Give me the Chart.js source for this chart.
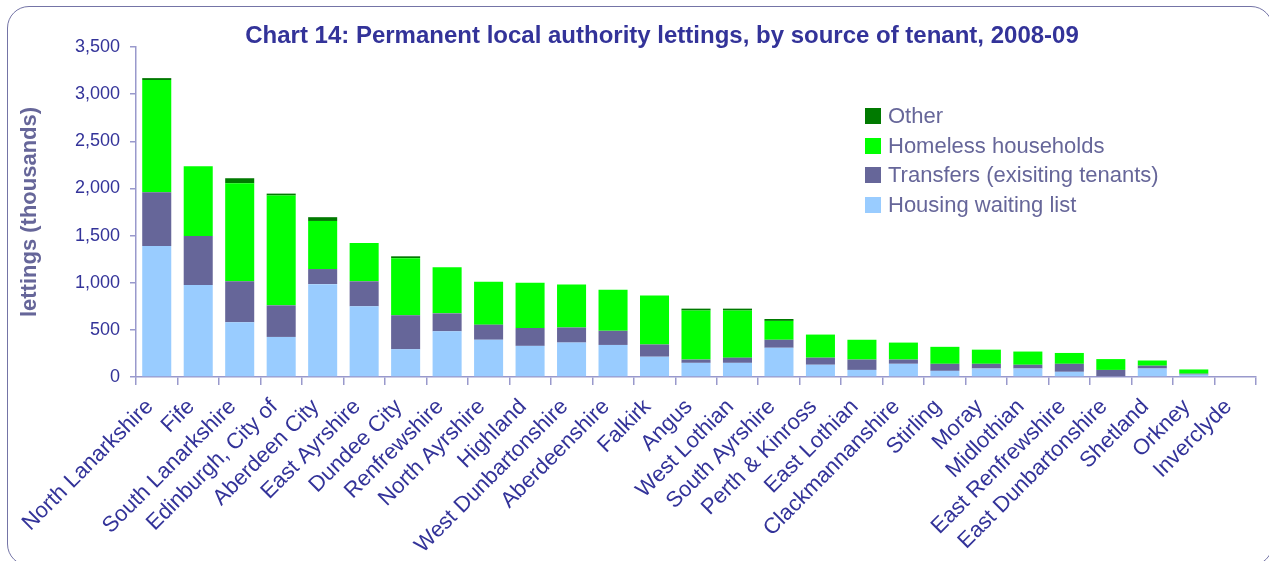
<!DOCTYPE html>
<html>
<head>
<meta charset="utf-8">
<script src="https://cdn.jsdelivr.net/npm/chart.js@4.4.1/dist/chart.umd.min.js"></script>
<style>
  html, body { margin: 0; padding: 0; background: #fff; }
  #wrap { position: relative; width: 1269px; height: 561px; overflow: hidden; font-family: "Liberation Sans", Arial, sans-serif; }
  #frame { position: absolute; left: 7px; top: 6px; width: 1266px; height: 560px; border: 1.5px solid #7474a6; border-radius: 22px; box-sizing: border-box; }
  #title { position: absolute; left: 662px; top: 21px; transform: translateX(-50%); white-space: nowrap; font-weight: bold; font-size: 24px; line-height: 28px; color: #333399; }
  #legend { position: absolute; left: 865px; top: 101px; }
  .item { display: flex; align-items: center; height: 29.7px; font-size: 22px; color: #666699; }
  .box { width: 16px; height: 16px; margin-right: 7px; }
  canvas { position: absolute; left: 0; top: 0; }
</style>
</head>
<body>
<div id="wrap">
  <canvas id="grafico" width="1269" height="561"></canvas>
  <div id="frame"></div>
  <div id="title">Chart 14: Permanent local authority lettings, by source of tenant, 2008-09</div>
  <div id="legend"></div>
</div>
<script>
const autoridades = [
    'North Lanarkshire', 'Fife', 'South Lanarkshire', 'Edinburgh, City of', 'Aberdeen City',
    'East Ayrshire', 'Dundee City', 'Renfrewshire', 'North Ayrshire', 'Highland',
    'West Dunbartonshire', 'Aberdeenshire', 'Falkirk', 'Angus', 'West Lothian',
    'South Ayrshire', 'Perth & Kinross', 'East Lothian', 'Clackmannanshire', 'Stirling',
    'Moray', 'Midlothian', 'East Renfrewshire', 'East Dunbartonshire', 'Shetland',
    'Orkney', 'Inverclyde',
];

const listaEspera = [1390, 975, 580, 425, 985, 750, 295, 485, 395, 330, 365, 340, 215, 150, 150, 310, 130, 75, 140, 65, 90, 90, 55, 0, 90, 25, 0];
const traslados = [570, 520, 435, 335, 160, 265, 360, 190, 160, 190, 160, 150, 130, 35, 55, 85, 75, 110, 45, 75, 50, 40, 85, 75, 30, 10, 0];
const sinHogar = [1190, 740, 1040, 1165, 510, 405, 605, 490, 455, 480, 455, 435, 520, 520, 500, 200, 245, 210, 180, 180, 150, 140, 115, 115, 55, 45, 0];
const otros = [20, 0, 53, 20, 40, 0, 20, 0, 0, 0, 0, 0, 0, 20, 20, 20, 0, 0, 0, 0, 0, 0, 0, 0, 0, 0, 0];

const yMax = 3500;
const yPaso = 500;

const colorEje = '#9999cc';
const colorTexto = '#333399';

const grafico = new Chart(document.getElementById('grafico'), {
    type: 'bar',
    data: {
        labels: autoridades,
        datasets: [
            { label: 'Housing waiting list', data: listaEspera, backgroundColor: '#99ccff' },
            { label: 'Transfers (exisiting tenants)', data: traslados, backgroundColor: '#666699' },
            { label: 'Homeless households', data: sinHogar, backgroundColor: '#00ff00' },
            { label: 'Other', data: otros, backgroundColor: '#007a00' },
        ],
    },
    options: {
        responsive: false,
        animation: false,
        devicePixelRatio: 1,
        layout: { padding: { left: 0, right: 13, top: 47, bottom: 0 } },
        datasets: { bar: { categoryPercentage: 1, barPercentage: 0.7 } },
        plugins: {
            legend: { display: false },
            tooltip: { enabled: false },
        },
        scales: {
            x: {
                stacked: true,
                afterFit: (escala) => { escala.height = 184; },
                border: { color: colorEje, width: 1.5 },
                grid: { drawOnChartArea: false, color: colorEje, tickLength: 8, lineWidth: 1.5 },
                ticks: {
                    autoSkip: false,
                    maxRotation: 45,
                    minRotation: 45,
                    padding: 9,
                    labelOffset: -7,
                    color: colorTexto,
                    font: { family: 'Liberation Sans', size: 22 },
                },
            },
            y: {
                stacked: true,
                min: 0,
                max: yMax,
                afterFit: (escala) => { escala.width = 136; },
                border: { color: colorEje, width: 1.5 },
                grid: { drawOnChartArea: false, color: colorEje, tickLength: 6, lineWidth: 1.5 },
                ticks: {
                    stepSize: yPaso,
                    padding: 10,
                    color: colorTexto,
                    font: { family: 'Liberation Sans', size: 18 },
                    callback: (v) => v.toLocaleString('en-GB'),
                },
                title: {
                    display: true,
                    text: 'lettings (thousands)',
                    color: '#666699',
                    padding: { top: 17, bottom: 0 },
                    font: { family: 'Liberation Sans', size: 22, weight: 'bold' },
                },
            },
        },
    },
});

// Leyenda en HTML, en el orden inverso al apilado como en el original
const leyenda = document.getElementById('legend');
grafico.data.datasets.slice().reverse().forEach((ds) => {
    const fila = document.createElement('div');
    fila.className = 'item';
    fila.innerHTML = `<span class="box" style="background:${ds.backgroundColor}"></span>${ds.label}`;
    leyenda.appendChild(fila);
});
</script>
</body>
</html>
